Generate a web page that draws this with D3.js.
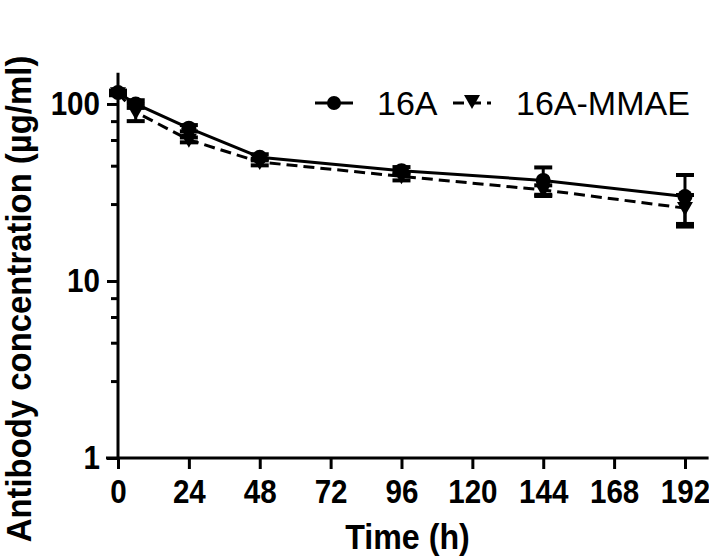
<!DOCTYPE html>
<html>
<head>
<meta charset="utf-8">
<script src="https://cdn.jsdelivr.net/npm/d3@7/dist/d3.min.js"></script>
<style>
  html, body { margin: 0; padding: 0; background: #fff; }
  svg { display: block; }
  text { font-family: "Liberation Sans", Arial, sans-serif; fill: #000; }
</style>
</head>
<body>
<svg id="chart" width="709" height="559"></svg>
<script>
// ---- data ----
const times = [0, 6, 24, 48, 96, 144, 192];
const mean16A = [116, 100, 73, 50, 42, 37, 30];
const sd16A = [3, 5, 3, 2, 2, 6.8, 9.7];
const meanMMAE = [115, 90, 62.7, 47, 39, 32.7, 25.8];
const sdMMAE = [3, 10, 2, 2, 2, 2, 4.8];
const xTicks = [0, 24, 48, 72, 96, 120, 144, 168, 192];
const yMajorTicks = [1, 10, 100];
const yMinorFactors = [2.72, 4.48, 6.26, 8.0];
const seriesNames = ["16A", "16A-MMAE"];

const svg = d3.select("#chart");
const x = d3.scaleLinear().domain([0, 200]).range([118, 708.6]);
const y = d3.scaleLog().domain([1, 150]).range([458, 72.8]);
const SX = 0.87;

const yMinor = [];
[1, 10].forEach(d => yMinorFactors.forEach(f => yMinor.push(d * f)));

const g = svg.append("g");

// y axis
const yAxis = d3.axisLeft(y).tickValues(yMajorTicks).tickFormat(d3.format("d")).tickSize(11).tickPadding(6);
const ya = g.append("g").attr("transform", `translate(${x(0)},0)`).call(yAxis);
ya.select(".domain").attr("stroke-width", 3).attr("d", `M0,${y(150)}V${y(1)}`);
ya.selectAll(".tick line").attr("stroke-width", 3);
ya.selectAll(".tick text").attr("font-size", 34).attr("font-weight", "bold")
  .attr("font-family", "'Liberation Sans', Arial, sans-serif").attr("fill", "#000")
  .attr("x", -18 / SX).attr("transform", `scale(${SX},1)`);
const yMinorAxis = d3.axisLeft(y).tickValues(yMinor).tickFormat("").tickSize(7);
const ym = g.append("g").attr("transform", `translate(${x(0)},0)`).call(yMinorAxis);
ym.select(".domain").remove();
ym.selectAll(".tick line").attr("stroke-width", 3);

// x axis
const xAxis = d3.axisBottom(x).tickValues(xTicks).tickFormat(d3.format("d")).tickSize(11).tickPadding(10);
const xa = g.append("g").attr("transform", `translate(0,${y(1)})`).call(xAxis);
xa.select(".domain").attr("stroke-width", 3).attr("d", `M${x(0) - 12},0H${x(200)}`);
xa.selectAll(".tick line").attr("stroke-width", 3);
xa.selectAll(".tick text").attr("font-size", 34).attr("font-weight", "bold")
  .attr("font-family", "'Liberation Sans', Arial, sans-serif").attr("fill", "#000")
  .attr("transform", `scale(${SX},1)`);

// axis titles
g.append("text").attr("transform", `translate(${x(96) + 6},549) scale(${SX + 0.05},1)`)
  .attr("text-anchor", "middle")
  .attr("font-size", 35).attr("font-weight", "bold").text("Time (h)");
g.append("text").attr("transform", `translate(31,${(548 + 50) / 2}) rotate(-90) scale(0.94,1)`)
  .attr("text-anchor", "middle").attr("font-size", 35).attr("font-weight", "bold")
  .text("Antibody concentration (µg/ml)");

// series
const series = [
  { name: seriesNames[0], mean: mean16A, sd: sd16A, dash: null, marker: "circle" },
  { name: seriesNames[1], mean: meanMMAE, sd: sdMMAE, dash: "11,6", marker: "tri" }
];
const line = d3.line().x(d => x(d.t)).y(d => y(d.v));
const triPath = "M0,8L-8,-6L8,-6Z";

series.forEach(s => {
  const pts = times.map((t, i) => ({ t, v: s.mean[i], sd: s.sd[i] }));
  const eb = g.append("g");
  pts.forEach(p => {
    const hi = p.v + p.sd, lo = Math.max(p.v - p.sd, 1.01);
    eb.append("line").attr("x1", x(p.t)).attr("x2", x(p.t)).attr("y1", y(hi)).attr("y2", y(lo))
      .attr("stroke", "#000").attr("stroke-width", 3);
    [hi, lo].forEach(v => eb.append("line").attr("x1", x(p.t) - 9).attr("x2", x(p.t) + 9)
      .attr("y1", y(v)).attr("y2", y(v)).attr("stroke", "#000").attr("stroke-width", 4));
  });
  g.append("path").datum(pts).attr("d", line).attr("fill", "none").attr("stroke", "#000")
    .attr("stroke-width", 3).attr("stroke-dasharray", s.dash);
  pts.forEach(p => {
    if (s.marker === "circle") {
      g.append("circle").attr("cx", x(p.t)).attr("cy", y(p.v)).attr("r", 7.5).attr("fill", "#000");
    } else {
      g.append("path").attr("d", triPath).attr("transform", `translate(${x(p.t)},${y(p.v)})`).attr("fill", "#000");
    }
  });
});

// legend
const lg = svg.append("g");
lg.append("line").attr("x1", 315).attr("x2", 353).attr("y1", 103).attr("y2", 103)
  .attr("stroke", "#000").attr("stroke-width", 3);
lg.append("circle").attr("cx", 334).attr("cy", 103).attr("r", 7).attr("fill", "#000");
lg.append("text").attr("x", 377).attr("y", 115).attr("font-size", 34).text(seriesNames[0]);
lg.append("line").attr("x1", 453).attr("x2", 491).attr("y1", 103).attr("y2", 103)
  .attr("stroke", "#000").attr("stroke-width", 3).attr("stroke-dasharray", "11,6");
lg.append("path").attr("d", triPath).attr("transform", "translate(472,101)").attr("fill", "#000");
lg.append("text").attr("x", 516).attr("y", 115).attr("font-size", 34).text(seriesNames[1]);
</script>
</body>
</html>
